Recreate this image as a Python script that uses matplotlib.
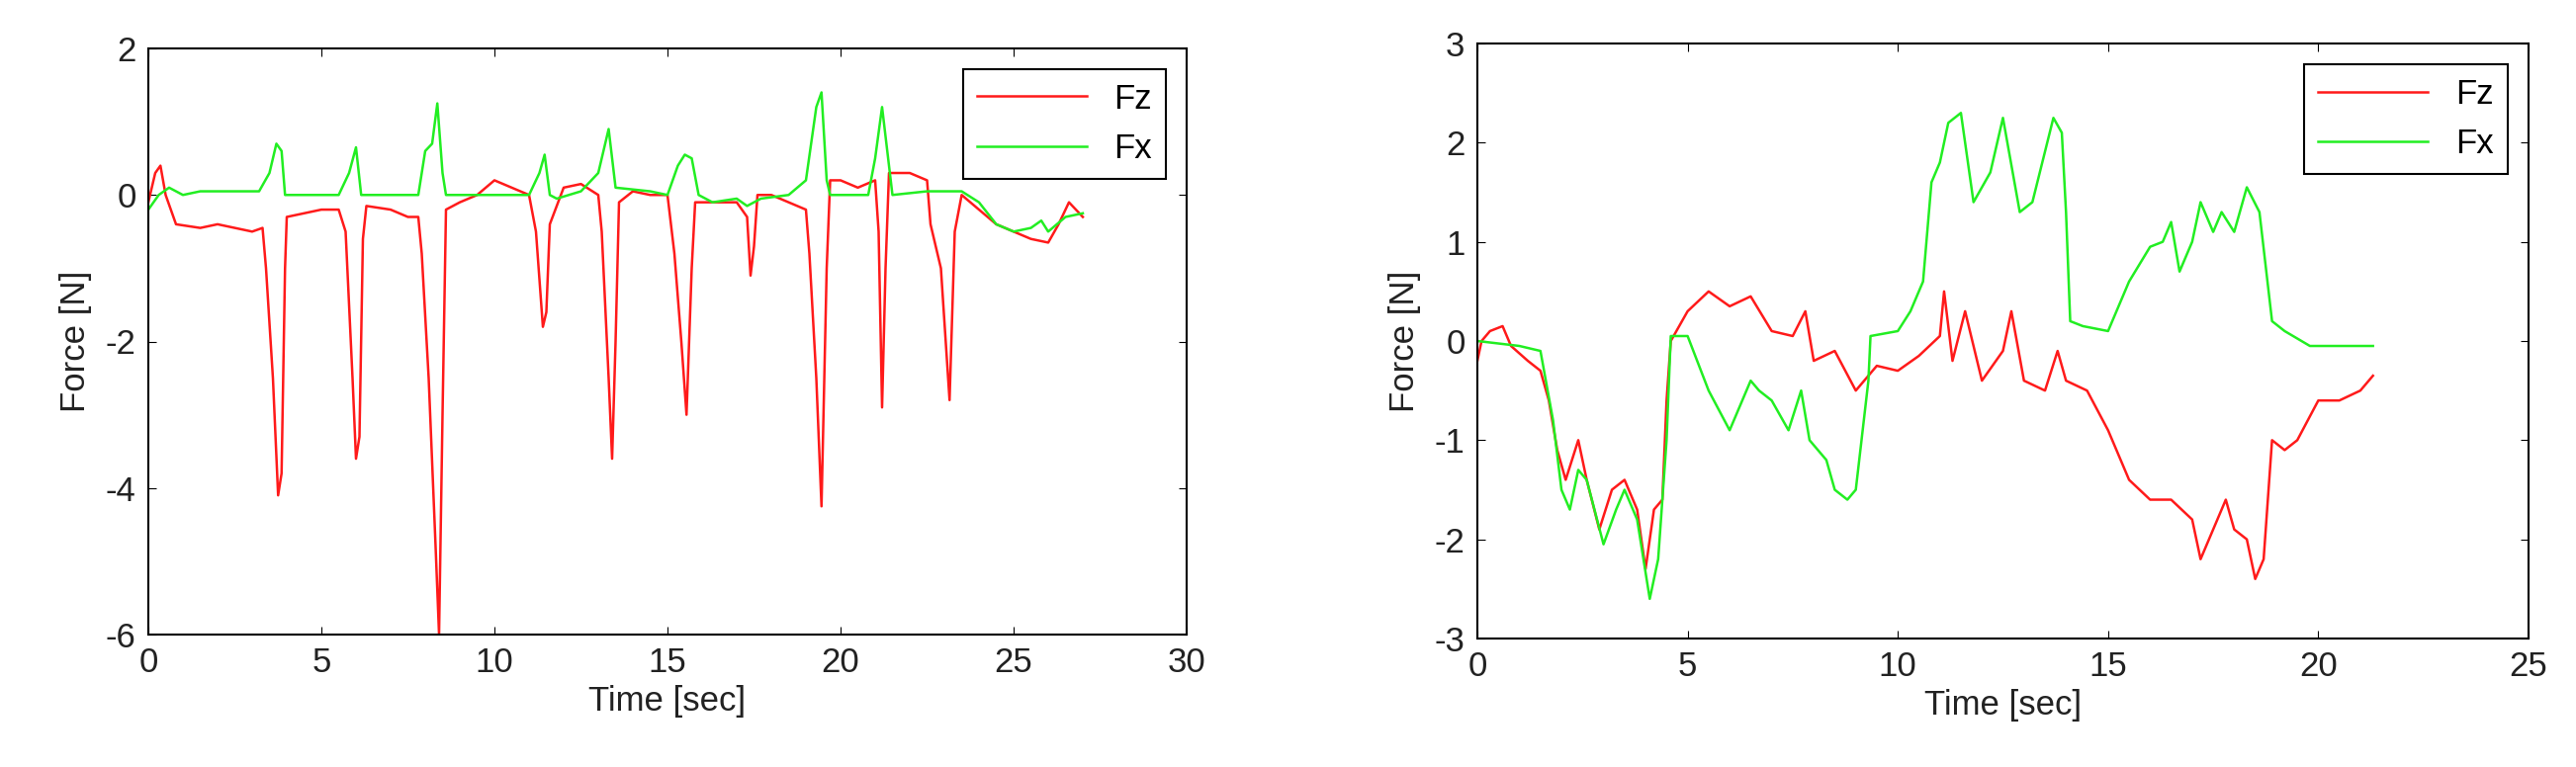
import matplotlib
matplotlib.use("Agg")
import matplotlib.pyplot as plt

# Left panel
l_fz_t = [0,0.2,0.35,0.5,0.8,1.5,2,2.5,3,3.3,3.4,3.6,3.75,3.85,3.95,4.0,5,5.5,5.7,5.9,6.0,6.1,6.2,6.3,7,7.5,7.8,7.9,8.1,8.3,8.4,8.5,8.6,9,9.5,10,10.5,11,11.2,11.4,11.5,11.6,12,12.5,13,13.1,13.3,13.4,13.5,13.6,14,14.5,15,15.2,15.4,15.55,15.7,15.8,16.5,17,17.3,17.4,17.5,17.6,18,18.5,19,19.1,19.3,19.45,19.6,19.7,20,20.5,21,21.1,21.2,21.3,21.4,22,22.5,22.6,22.9,23.15,23.3,23.5,24,24.5,25,25.5,26,26.3,26.6,26.8,27]
l_fz = [-0.1,0.3,0.4,0.0,-0.4,-0.45,-0.4,-0.45,-0.5,-0.45,-1.0,-2.5,-4.1,-3.8,-1.0,-0.3,-0.2,-0.2,-0.5,-2.5,-3.6,-3.3,-0.6,-0.15,-0.2,-0.3,-0.3,-0.8,-2.5,-4.8,-6.0,-3,-0.2,-0.1,0.0,0.2,0.1,0.0,-0.5,-1.8,-1.6,-0.4,0.1,0.15,0.0,-0.5,-2.5,-3.6,-2,-0.1,0.05,0.0,0.0,-0.8,-2.0,-3.0,-1.0,-0.1,-0.1,-0.1,-0.3,-1.1,-0.7,0.0,0.0,-0.1,-0.2,-0.8,-2.5,-4.25,-1,0.2,0.2,0.1,0.2,-0.5,-2.9,-1,0.3,0.3,0.2,-0.4,-1.0,-2.8,-0.5,0.0,-0.2,-0.4,-0.5,-0.6,-0.65,-0.4,-0.1,-0.2,-0.3]
l_fx_t = [0,0.3,0.6,1,1.5,3.2,3.5,3.7,3.85,3.95,4.2,5.5,5.8,6.0,6.15,7.8,8.0,8.2,8.35,8.5,8.6,11,11.3,11.45,11.6,11.8,12.5,13.0,13.3,13.5,14.5,15,15.3,15.5,15.7,15.9,16.3,17,17.3,17.7,18.5,19.0,19.3,19.45,19.6,19.7,20.8,21.0,21.2,21.35,21.5,22.5,23.5,24,24.5,25,25.5,25.8,26,26.5,27]
l_fx = [-0.2,0.0,0.1,0.0,0.05,0.05,0.3,0.7,0.6,0.0,0.0,0.0,0.3,0.65,0.0,0.0,0.6,0.7,1.25,0.3,0.0,0.0,0.3,0.55,0.0,-0.05,0.05,0.3,0.9,0.1,0.05,0.0,0.4,0.55,0.5,0.0,-0.1,-0.05,-0.15,-0.05,0.0,0.2,1.2,1.4,0.2,0.0,0.0,0.5,1.2,0.6,0.0,0.05,0.05,-0.1,-0.4,-0.5,-0.45,-0.35,-0.5,-0.3,-0.25]

# Right panel
r_fz_t = [0,0.1,0.3,0.6,0.8,1.2,1.5,1.7,1.9,2.1,2.4,2.6,2.9,3.2,3.5,3.8,4.0,4.2,4.4,4.5,4.6,5,5.5,6,6.5,7,7.5,7.8,8,8.5,9,9.5,10,10.5,11,11.1,11.3,11.6,12,12.5,12.7,13,13.5,13.8,14,14.5,15,15.5,16,16.5,17,17.2,17.5,17.8,18,18.3,18.5,18.7,18.9,19.2,19.5,20,20.5,21,21.3]
r_fz = [-0.2,0.0,0.1,0.15,-0.05,-0.2,-0.3,-0.6,-1.1,-1.4,-1.0,-1.4,-1.9,-1.5,-1.4,-1.7,-2.3,-1.7,-1.6,-0.6,0.0,0.3,0.5,0.35,0.45,0.1,0.05,0.3,-0.2,-0.1,-0.5,-0.25,-0.3,-0.15,0.05,0.5,-0.2,0.3,-0.4,-0.1,0.3,-0.4,-0.5,-0.1,-0.4,-0.5,-0.9,-1.4,-1.6,-1.6,-1.8,-2.2,-1.9,-1.6,-1.9,-2.0,-2.4,-2.2,-1.0,-1.1,-1.0,-0.6,-0.6,-0.5,-0.35]
r_fx_t = [0,1.0,1.5,1.8,2.0,2.2,2.4,2.6,3.0,3.3,3.5,3.8,4.1,4.3,4.5,4.6,5.0,5.5,6,6.5,6.7,7,7.4,7.7,7.9,8.3,8.5,8.8,9.0,9.3,9.35,10,10.3,10.6,10.8,11.0,11.2,11.5,11.8,12.2,12.5,12.9,13.2,13.7,13.9,14.0,14.1,14.4,15,15.5,16,16.3,16.5,16.7,17,17.2,17.5,17.7,18,18.3,18.6,18.9,19.2,19.8,20.5,21.3]
r_fx = [0.0,-0.05,-0.1,-0.8,-1.5,-1.7,-1.3,-1.4,-2.05,-1.7,-1.5,-1.8,-2.6,-2.2,-1.0,0.05,0.05,-0.5,-0.9,-0.4,-0.5,-0.6,-0.9,-0.5,-1.0,-1.2,-1.5,-1.6,-1.5,-0.4,0.05,0.1,0.3,0.6,1.6,1.8,2.2,2.3,1.4,1.7,2.25,1.3,1.4,2.25,2.1,1.3,0.2,0.15,0.1,0.6,0.95,1.0,1.2,0.7,1.0,1.4,1.1,1.3,1.1,1.55,1.3,0.2,0.1,-0.05,-0.05,-0.05]

plt.rcParams['font.family'] = ['Liberation Sans', 'DejaVu Sans']
plt.rcParams['axes.unicode_minus'] = False
fig = plt.figure(figsize=(26.05, 7.76), dpi=100)
W, H = 2605, 776
axL = fig.add_axes([150/W, 1-642/H, 1050/W, 593/H])
axR = fig.add_axes([1494/W, 1-646/H, 1063/W, 602/H])

def style(ax, xlim, ylim, xt, yt, leg_bbox):
    ax.set_xlim(*xlim); ax.set_ylim(*ylim)
    ax.set_xticks(xt); ax.set_yticks(yt)
    ax.tick_params(direction='in', top=True, right=True, labelsize=25, length=6, pad=9, labelcolor='#222')
    ax.set_xlabel('Time [sec]', fontsize=25, color='#222', labelpad=4)
    ax.set_ylabel('Force [N]', fontsize=25, color='#222', labelpad=10)
    for s in ax.spines.values():
        s.set_linewidth(1.5)
    leg = ax.legend(loc='upper right', bbox_to_anchor=leg_bbox, fontsize=25, fancybox=False,
                    edgecolor='black', framealpha=1, handlelength=3.2, borderaxespad=0)
    leg.get_frame().set_linewidth(1.5)

axL.plot(l_fz_t, l_fz, color='#ff1a1a', lw=1.8, label='Fz')
axL.plot(l_fx_t, l_fx, color='#22ee22', lw=1.8, label='Fx')
style(axL, (0, 30), (-6, 2), range(0, 31, 5), [-6, -4, -2, 0, 2], (0.98, 0.965))

axR.plot(r_fz_t, r_fz, color='#ff1a1a', lw=1.8, label='Fz')
axR.plot(r_fx_t, r_fx, color='#22ee22', lw=1.8, label='Fx')
style(axR, (0, 25), (-3, 3), range(0, 26, 5), [-3, -2, -1, 0, 1, 2, 3], (0.98, 0.965))

fig.savefig('out.png', dpi=100)
